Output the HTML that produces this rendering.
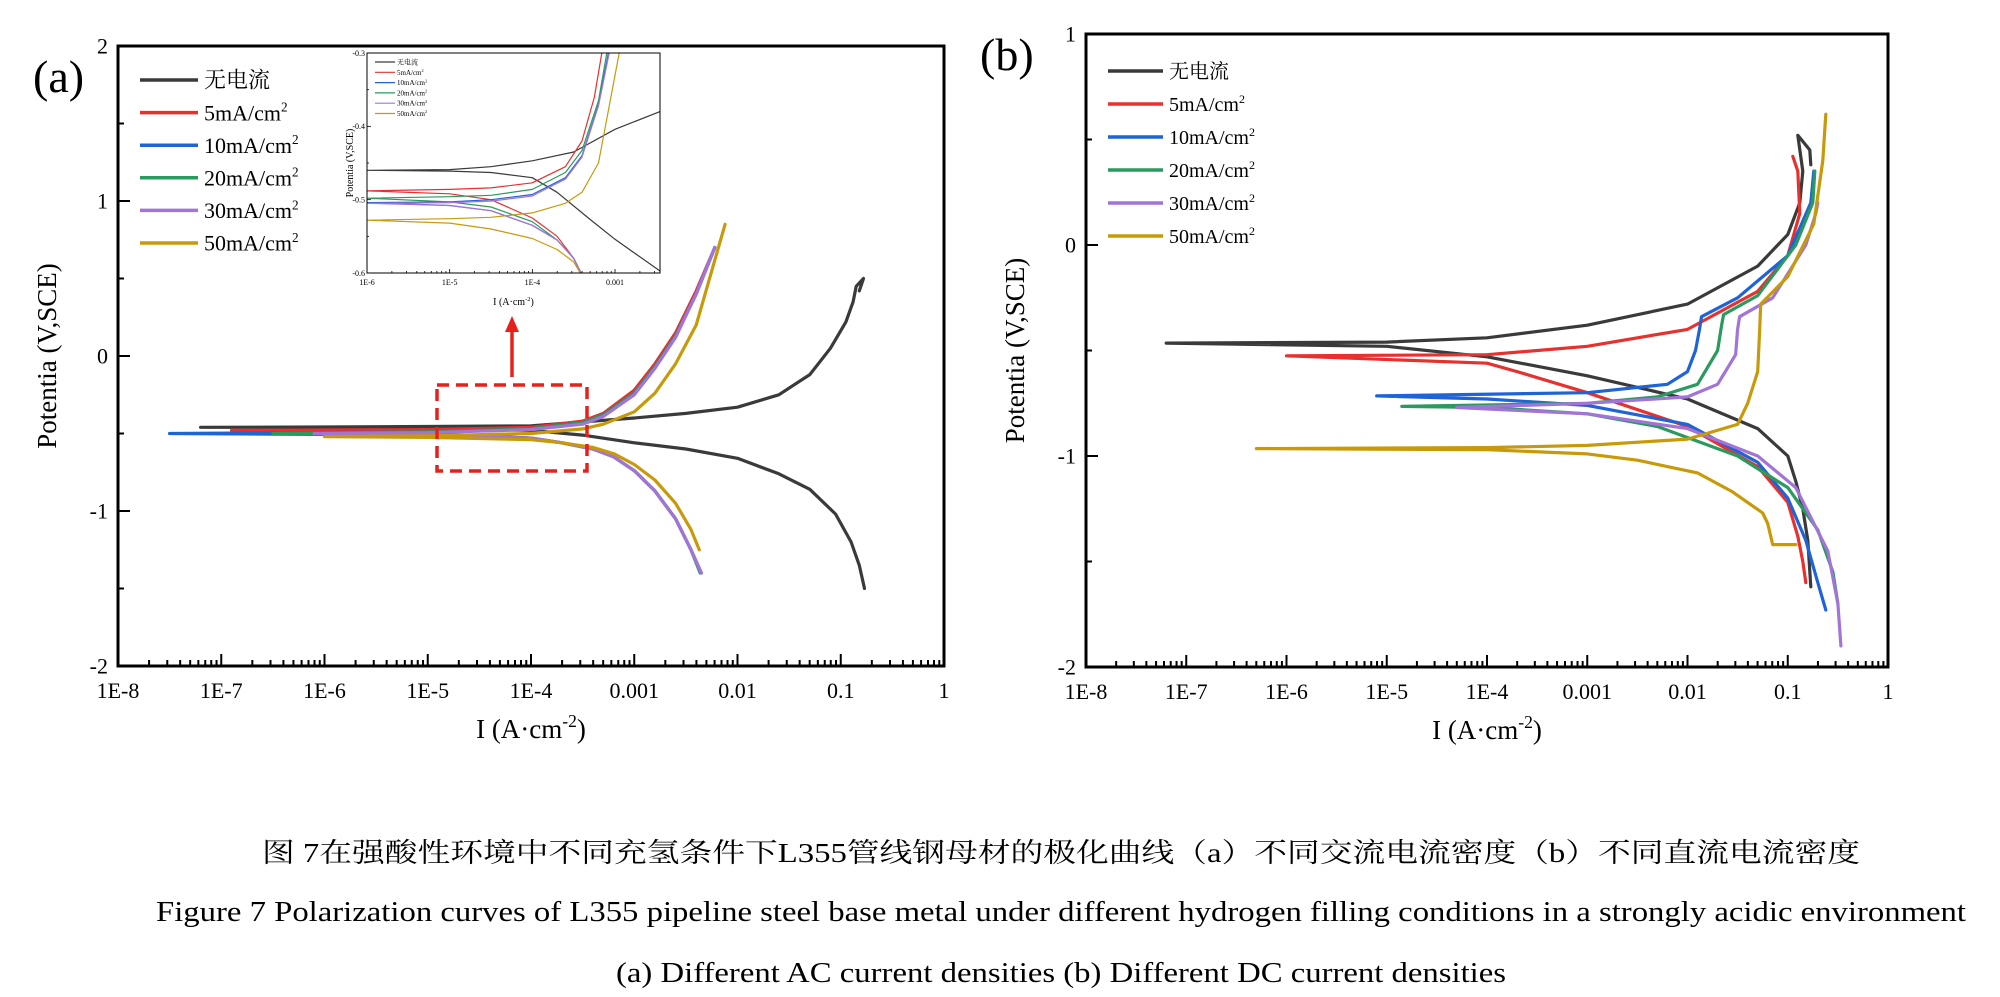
<!DOCTYPE html>
<html><head><meta charset="utf-8"><style>
html,body{margin:0;padding:0;background:#fff;}
svg{display:block;font-family:"Liberation Serif","Noto Serif CJK SC","Noto Sans CJK SC",serif;}
</style></head><body>
<svg id="fig" width="2000" height="997" viewBox="0 0 2000 997" xmlns="http://www.w3.org/2000/svg"></svg>
<script>
// ---------- data ----------
const seriesNames = ["无电流","5mA/cm","10mA/cm","20mA/cm","30mA/cm","50mA/cm"];
const seriesColors = ["#3a3a3a","#e8302f","#1f63d8","#2a9a5e","#a274d8","#c89a0a"];
const xTickLabels = ["1E-8","1E-7","1E-6","1E-5","1E-4","0.001","0.01","0.1","1"];
const yTicksA = [-2,-1,0,1,2];
const yTicksB = [-2,-1,0,1];
// Panel (a): each series = log10(I) list and E list (cathodic end -> Ecorr -> anodic end)
const aLogI = [
 [-0.77,-0.82,-0.9,-1.05,-1.3,-1.6,-2,-2.5,-3,-3.5,-4,-5,-6,-7.2,-6,-5,-4,-3,-2.5,-2,-1.6,-1.3,-1.1,-0.95,-0.88,-0.85,-0.78,-0.82],
 [-2.35,-2.45,-2.6,-2.8,-3,-3.2,-3.4,-3.7,-4,-5,-6.9,-5,-4,-3.5,-3.3,-3,-2.8,-2.6,-2.4,-2.22],
 [-2.36,-2.45,-2.6,-2.8,-3,-3.2,-3.4,-3.7,-4,-5,-7.5,-5,-4,-3.5,-3.3,-3,-2.8,-2.6,-2.4,-2.22],
 [-2.36,-2.45,-2.6,-2.8,-3,-3.2,-3.4,-3.7,-4,-5,-6.5,-5,-4,-3.5,-3.3,-3,-2.8,-2.6,-2.4,-2.22],
 [-2.35,-2.45,-2.6,-2.8,-3,-3.2,-3.4,-3.7,-4,-5,-6.1,-5,-4,-3.5,-3.3,-3,-2.8,-2.6,-2.4,-2.22],
 [-2.37,-2.45,-2.6,-2.8,-3,-3.2,-3.4,-3.7,-4,-5,-6,-5,-4,-3.5,-3.3,-3,-2.8,-2.6,-2.4,-2.12]
];
const aE = [
 [-1.5,-1.35,-1.2,-1.02,-0.86,-0.76,-0.66,-0.6,-0.56,-0.51,-0.48,-0.465,-0.46,-0.46,-0.458,-0.455,-0.45,-0.4,-0.37,-0.33,-0.25,-0.12,0.05,0.22,0.35,0.45,0.5,0.42],
 [-1.4,-1.25,-1.05,-0.87,-0.74,-0.65,-0.6,-0.56,-0.53,-0.5,-0.48,-0.475,-0.46,-0.42,-0.37,-0.22,-0.05,0.15,0.42,0.7],
 [-1.4,-1.25,-1.05,-0.87,-0.74,-0.65,-0.6,-0.56,-0.53,-0.51,-0.5,-0.49,-0.47,-0.43,-0.38,-0.24,-0.07,0.13,0.4,0.7],
 [-1.4,-1.25,-1.05,-0.87,-0.74,-0.65,-0.6,-0.56,-0.53,-0.51,-0.5,-0.49,-0.47,-0.43,-0.38,-0.24,-0.07,0.13,0.4,0.7],
 [-1.4,-1.25,-1.05,-0.87,-0.74,-0.65,-0.6,-0.56,-0.53,-0.51,-0.5,-0.495,-0.475,-0.44,-0.39,-0.25,-0.08,0.12,0.4,0.7],
 [-1.25,-1.12,-0.95,-0.8,-0.7,-0.63,-0.59,-0.56,-0.54,-0.525,-0.52,-0.515,-0.5,-0.47,-0.44,-0.36,-0.24,-0.05,0.2,0.85]
];
// Panel (b)
const bLogI = [
 [-0.77,-0.8,-0.85,-0.92,-1,-1.3,-2,-3,-4,-5,-7.2,-5,-4,-3,-2,-1.3,-1,-0.88,-0.85,-0.9,-0.78,-0.77],
 [-0.82,-0.85,-0.9,-1,-1.3,-2,-3,-3.7,-4,-6,-4,-3,-2,-1.3,-1,-0.88,-0.9,-0.95],
 [-0.62,-0.7,-0.82,-1,-1.3,-2,-3,-4,-5.1,-3,-2.2,-2,-1.92,-1.88,-1.86,-1.5,-1,-0.77,-0.74],
 [-0.5,-0.55,-0.7,-1,-1.5,-2.3,-3,-4,-4.85,-3,-2.3,-1.9,-1.7,-1.66,-1.64,-1.3,-0.92,-0.75,-0.73],
 [-0.47,-0.5,-0.6,-0.92,-1.3,-2,-3,-4.3,-3,-2,-1.7,-1.52,-1.5,-1.48,-1.15,-0.82,-0.72,-0.7],
 [-0.92,-1.15,-1.2,-1.25,-1.55,-1.9,-2.5,-3,-4,-6.3,-4,-3,-2,-1.5,-1.4,-1.3,-1.28,-1.27,-1.0,-0.74,-0.65,-0.62]
];
const bE = [
 [-1.62,-1.4,-1.25,-1.12,-1.0,-0.87,-0.73,-0.62,-0.53,-0.48,-0.465,-0.46,-0.44,-0.38,-0.28,-0.1,0.05,0.2,0.35,0.52,0.45,0.38],
 [-1.6,-1.5,-1.38,-1.22,-1.05,-0.86,-0.7,-0.6,-0.56,-0.525,-0.52,-0.48,-0.4,-0.22,-0.05,0.15,0.35,0.42],
 [-1.73,-1.6,-1.4,-1.2,-1.03,-0.85,-0.76,-0.73,-0.715,-0.7,-0.66,-0.6,-0.5,-0.4,-0.34,-0.25,-0.05,0.2,0.35],
 [-1.7,-1.55,-1.35,-1.15,-1.0,-0.86,-0.8,-0.77,-0.765,-0.75,-0.72,-0.66,-0.5,-0.38,-0.33,-0.24,0.0,0.2,0.35],
 [-1.9,-1.7,-1.45,-1.15,-1.0,-0.87,-0.8,-0.77,-0.75,-0.72,-0.66,-0.52,-0.4,-0.34,-0.25,0.0,0.15,0.2],
 [-1.42,-1.42,-1.32,-1.27,-1.17,-1.08,-1.02,-0.99,-0.97,-0.965,-0.96,-0.95,-0.92,-0.85,-0.75,-0.6,-0.4,-0.28,-0.15,0.1,0.4,0.62]
];
// Inset (zoom of panel a)
const insLogI = [
 [-2.46,-3,-3.3,-3.7,-4,-4.5,-5,-6,-5,-4.5,-4,-3.5,-3,-2.46],
 [-3.42,-3.5,-3.7,-4,-4.5,-5,-6,-5,-4.5,-4,-3.6,-3.4,-3.25,-3.16],
 [-3.41,-3.5,-3.7,-4,-4.5,-5,-6,-5,-4.5,-4,-3.6,-3.4,-3.2,-3.08],
 [-3.41,-3.5,-3.7,-4,-4.5,-5,-6,-5,-4.5,-4,-3.6,-3.4,-3.2,-3.1],
 [-3.41,-3.5,-3.7,-4,-4.5,-5,-6,-5,-4.5,-4,-3.6,-3.4,-3.2,-3.07],
 [-3.42,-3.5,-3.7,-4,-4.5,-5,-6,-5,-4.5,-4,-3.6,-3.4,-3.2,-2.95]
];
const insE = [
 [-0.597,-0.554,-0.527,-0.49,-0.47,-0.463,-0.461,-0.46,-0.459,-0.455,-0.447,-0.435,-0.404,-0.38],
 [-0.6,-0.58,-0.55,-0.525,-0.5,-0.492,-0.488,-0.486,-0.484,-0.477,-0.455,-0.42,-0.36,-0.3],
 [-0.6,-0.58,-0.555,-0.535,-0.515,-0.508,-0.504,-0.503,-0.5,-0.493,-0.47,-0.44,-0.37,-0.3],
 [-0.6,-0.58,-0.555,-0.53,-0.51,-0.503,-0.498,-0.496,-0.494,-0.486,-0.463,-0.433,-0.365,-0.3],
 [-0.6,-0.58,-0.555,-0.535,-0.515,-0.508,-0.505,-0.504,-0.502,-0.495,-0.472,-0.442,-0.372,-0.3],
 [-0.6,-0.585,-0.568,-0.553,-0.54,-0.532,-0.528,-0.526,-0.524,-0.518,-0.505,-0.49,-0.45,-0.3]
];

// ---------- drawing ----------
const NS="http://www.w3.org/2000/svg";
const svg=document.getElementById('fig');
function mk(tag,attrs,parent){const e=document.createElementNS(NS,tag);for(const k in attrs)e.setAttribute(k,attrs[k]);(parent||svg).appendChild(e);return e;}
function txt(s,attrs,parent){const e=mk('text',attrs,parent);e.textContent=s;return e;}

function panel(cfg){
  const g=mk('g',{});
  
  
  const {L,R,T,B,xmin,xmax,ymin,ymax}=cfg;
  const xs=v=>L+(v-xmin)/(xmax-xmin)*(R-L);
  const ys=v=>B-(v-ymin)/(ymax-ymin)*(B-T);
  const clipId='clip'+cfg.name;
  const cp=mk('clipPath',{id:clipId},g);mk('rect',{x:L,y:T,width:R-L,height:B-T},cp);
  // series
  const sg=mk('g',{'clip-path':'url(#'+clipId+')'},g);
  cfg.logI.forEach((arr,i)=>{
    const pts=arr.map((v,j)=>xs(v).toFixed(1)+','+ys(cfg.E[i][j]).toFixed(1)).join(' ');
    const p=mk('polyline',{points:pts,fill:'none',stroke:seriesColors[i],'stroke-width':cfg.sw,'stroke-linejoin':'round','stroke-linecap':'round'},sg);
    
    
  });
  // frame
  const fr=mk('rect',{x:L,y:T,width:R-L,height:B-T,fill:'none',stroke:'#000','stroke-width':cfg.fw},g);
  
  // x ticks
  const xg=mk('g',{},g);
  for(let d=xmin;d<xmax;d++){for(let m=2;m<10;m++){const x=xs(d+Math.log10(m));if(x<=R)mk('line',{x1:x,x2:x,y1:B,y2:B-cfg.minT,stroke:'#000','stroke-width':cfg.tw},xg);}}
  for(let d=xmin;d<=xmax;d++){const x=xs(d);mk('line',{x1:x,x2:x,y1:B,y2:B-cfg.majT,stroke:'#000','stroke-width':cfg.tw},xg);}
  cfg.xLabels.forEach((s,i)=>{const t=txt(s,{x:xs(cfg.xFirst+i),y:B+cfg.xLabOff,'font-size':cfg.tfs,'text-anchor':'middle'},xg);});
  // y ticks
  const yg=mk('g',{},g);
  for(let v=ymin;v<=ymax+1e-9;v+=cfg.yStep/2){const y=ys(v);const maj=Math.abs(v/cfg.yStep-Math.round(v/cfg.yStep))<1e-6;mk('line',{x1:L,x2:L+(maj?cfg.majT:cfg.minT),y1:y,y2:y,stroke:'#000','stroke-width':cfg.tw},yg);}
  cfg.yTicks.forEach(v=>{const t=txt(cfg.yFmt(v),{x:L-cfg.yLabOff,y:ys(v)+cfg.tfs*0.35,'font-size':cfg.tfs,'text-anchor':'end'},yg);});
  // axis titles
  const xt=mk('text',{x:(L+R)/2,y:B+cfg.xTitOff,'font-size':cfg.titfs,'text-anchor':'middle'},g);
  xt.innerHTML='I (A·cm<tspan dy="-'+(cfg.titfs*0.4)+'" font-size="'+(cfg.titfs*0.65)+'">-2</tspan><tspan dy="'+(cfg.titfs*0.4)+'">)</tspan>';
  
  const yt=txt('Potentia (V,SCE)',{x:0,y:0,'font-size':cfg.titfs,'text-anchor':'middle',transform:'translate('+(L-cfg.yTitOff)+','+((T+B)/2)+') rotate(-90)'},g);
  
  // legend
  if(cfg.leg){
    const lg=mk('g',{},g);
    seriesNames.forEach((n,i)=>{
      const y=cfg.leg.y0+i*cfg.leg.dy;
      const en=mk('g',{},lg);
      mk('line',{x1:cfg.leg.x1,x2:cfg.leg.x2,y1:y,y2:y,stroke:seriesColors[i],'stroke-width':cfg.leg.sw},en);
      const t=mk('text',{x:cfg.leg.tx,y:y+cfg.leg.fs*0.35,'font-size':cfg.leg.fs},en);
      t.innerHTML=n+(i>0?'<tspan dy="-'+(cfg.leg.fs*0.4)+'" font-size="'+(cfg.leg.fs*0.6)+'">2</tspan>':'');
    });
  }
  return {xs,ys,g};
}

const big={minT:6,majT:12,tw:2,fw:3,sw:3.2,tfs:22,titfs:27,xLabOff:32,xTitOff:72,yLabOff:10,yTitOff:62,xmin:-8,xmax:0,xFirst:-8,xLabels:xTickLabels,yStep:1,yFmt:v=>String(v)};
panel(Object.assign({},big,{name:'panel-a',L:118,R:944,T:46,B:666,ymin:-2,ymax:2,yTicks:yTicksA,logI:aLogI,E:aE,
  leg:{x1:140,x2:198,tx:204,y0:80,dy:32.6,fs:22,sw:3.5}}));
panel(Object.assign({},big,{name:'panel-b',L:1086,R:1888,T:34,B:667,ymin:-2,ymax:1,yTicks:yTicksB,logI:bLogI,E:bE,
  leg:{x1:1108,x2:1163,tx:1169,y0:71,dy:33,fs:20,sw:3.5}}));
// inset
panel({name:'inset',L:367,R:660,T:53,B:273,xmin:-6,xmax:Math.log10(0.0035),xFirst:-6,xLabels:["1E-6","1E-5","1E-4","0.001"],
  ymin:-0.6,ymax:-0.3,yStep:0.1,yTicks:[-0.6,-0.5,-0.4,-0.3],yFmt:v=>v.toFixed(1),minT:2,majT:4,tw:0.8,fw:1,sw:1.2,tfs:8,titfs:10,
  xLabOff:12,xTitOff:32,yLabOff:2,yTitOff:14,logI:insLogI,E:insE,
  leg:{x1:375,x2:395,tx:397,y0:62,dy:10.3,fs:7,sw:1.2}});

// red dashed zoom box and arrow
const zb=mk('rect',{x:437,y:385,width:150,height:86,fill:'none',stroke:'#e8201c','stroke-width':3.5,'stroke-dasharray':'12,7'});

const ar=mk('g',{});
mk('line',{x1:512,x2:512,y1:377,y2:330,stroke:'#e8201c','stroke-width':3.5},ar);
mk('polygon',{points:'512,316 505,332 519,332',fill:'#e8201c'},ar);

// panel labels
const la=mk('text',{x:33,y:92,'font-size':46});la.innerHTML='(a)';
const lb=mk('text',{x:980,y:70,'font-size':46});lb.textContent='(b)';

// captions
const c1=txt('图 7在强酸性环境中不同充氢条件下L355管线钢母材的极化曲线（a）不同交流电流密度（b）不同直流电流密度',{x:262,y:862,'font-size':27,textLength:1598,lengthAdjust:'spacingAndGlyphs'});

const c2=txt('Figure 7 Polarization curves of L355 pipeline steel base metal under different hydrogen filling conditions in a strongly acidic environment',{x:156,y:921,'font-size':28,textLength:1810,lengthAdjust:'spacingAndGlyphs'});

const c3=txt('(a) Different AC current densities (b) Different DC current densities',{x:616,y:982,'font-size':28,textLength:890,lengthAdjust:'spacingAndGlyphs'});

</script>
</body></html>
